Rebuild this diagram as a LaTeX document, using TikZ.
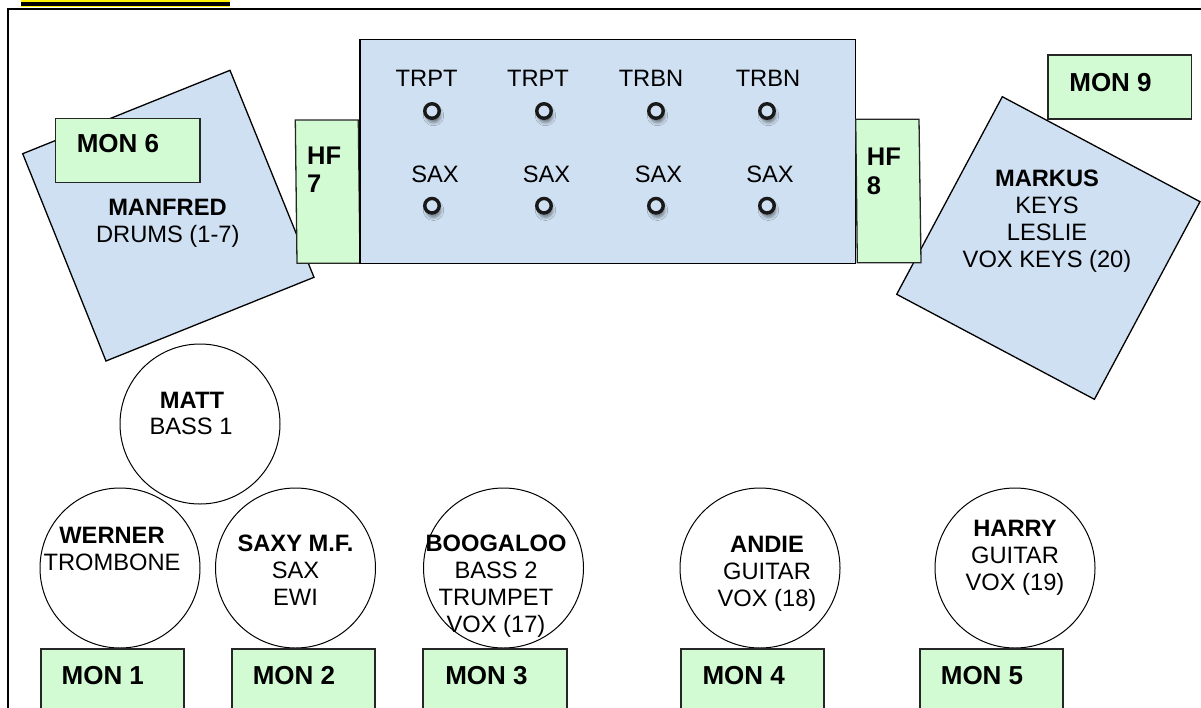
\documentclass[tikz,border=0pt]{standalone}
\usepackage{fontspec}
\setmainfont{Liberation Sans}
\usetikzlibrary{shadows.blur}
\definecolor{riser}{HTML}{CFE0F2}
\definecolor{monfill}{HTML}{D3FBD3}
\begin{document}
\begin{tikzpicture}[x=1pt,y=-1pt,
  riserbox/.style={draw=black, fill=riser, line width=1.3pt, line join=miter},
  monbox/.style={draw=black!85, fill=monfill, line width=1.3pt, line join=miter},
  person/.style={circle, draw=black, fill=white, line width=1pt, minimum size=160pt, inner sep=0pt},
  micring/.style={circle, draw=black!90, fill=riser, line width=3.4pt, minimum size=14.5pt, inner sep=0pt,
    blur shadow={shadow xshift=1.5pt, shadow yshift=-4.5pt, shadow blur radius=3pt, shadow opacity=45}},
  lbl/.style={inner sep=0pt, anchor=base, font=\fontsize{23.7}{27}\selectfont},
  blbl/.style={inner sep=0pt, anchor=base, font=\fontsize{23.7}{27}\selectfont\bfseries},
  monlbl/.style={inner sep=0pt, anchor=base, font=\fontsize{26}{30}\selectfont\bfseries},
  hflbl/.style={inner sep=0pt, anchor=base west, font=\fontsize{25.5}{30}\selectfont\bfseries}]
\useasboundingbox (0,0) rectangle (1201,707);
\clip (0,0) rectangle (1201,707);
\fill[white] (0,0) rectangle (1201,707);

% drum riser
\draw[riserbox] (22.7,153.7) -- (230,70.3) -- (314,277.3) -- (106,361) -- cycle;
\draw[monbox] (55.7,118.3) rectangle (200,182.7);
\node[monlbl] (mon6) at (118,152.6) {MON 6};
\node[blbl] (manfred) at (167.5,215.2) {MANFRED};
\node[lbl] (drums) at (167.8,242.2) {DRUMS (1-7)};

% HF 7
\draw[monbox] (295.3,120) -- (358.3,120) -- (360,263.3) -- (297,263.3) -- cycle;
\node[hflbl] (hf7a) at (307,164.3) {HF};
\node[hflbl] (hf7b) at (307,192.3) {7};

% horn riser
\draw[riserbox] (360,39.3) rectangle (855.5,263.3);
\node[lbl] (t1) at (426.6,86.5) {TRPT};
\node[lbl] (t2) at (538,86.5) {TRPT};
\node[lbl] (t3) at (651,86.5) {TRBN};
\node[lbl] (t4) at (768,86.5) {TRBN};
\node[lbl] (s1) at (435,182.5) {SAX};
\node[lbl] (s2) at (546.5,182.5) {SAX};
\node[lbl] (s3) at (658.5,182.5) {SAX};
\node[lbl] (s4) at (770,182.5) {SAX};
\foreach \x/\n in {432/1,544/2,656/3,767/4}{
  \node[micring] (mt\n) at (\x,111) {};
  \node[micring] (ms\n) at (\x,205.7) {};
}

% keys riser
\draw[riserbox] (1002.3,96.7) -- (1200,201.7) -- (1094.4,399.3) -- (896.7,294.3) -- cycle;
\draw[monbox] (1048,55) rectangle (1191.7,119);
\node[monlbl] (mon9) at (1110.5,91.5) {MON 9};
\node[blbl] (markus) at (1047,186.2) {MARKUS};
\node[lbl] (keys) at (1047,213.2) {KEYS};
\node[lbl] (leslie) at (1047,240.2) {LESLIE};
\node[lbl] (voxkeys) at (1047,267.2) {VOX KEYS (20)};

% HF 8
\draw[monbox] (855.7,119.3) -- (919,119.3) -- (921,262.7) -- (857.3,262.7) -- cycle;
\node[hflbl] (hf8a) at (866.7,165) {HF};
\node[hflbl] (hf8b) at (866.7,194) {8};

% performers
\node[person] (matt) at (200,424) {};
\node[blbl] (mattn) at (192,408.5) {MATT};
\node[lbl] (matti) at (191,434.5) {BASS 1};

\node[person] (werner) at (120,568) {};
\node[blbl] (wernern) at (112,543.5) {WERNER};
\node[lbl] (werneri) at (112,570.5) {TROMBONE};

\node[person] (saxy) at (295.5,568) {};
\node[blbl] (saxyn) at (295.5,551.5) {SAXY M.F.};
\node[lbl] (saxyi) at (295.5,578.5) {SAX};
\node[lbl] (saxyj) at (295.5,605.5) {EWI};

\node[person] (boog) at (503.5,568) {};
\node[blbl] (boogn) at (496,551.5) {BOOGALOO};
\node[lbl] (boogi) at (496,578.5) {BASS 2};
\node[lbl] (boogj) at (496,605.5) {TRUMPET};
\node[lbl] (boogk) at (496,632.5) {VOX (17)};

\node[person] (andie) at (760,568) {};
\node[blbl] (andien) at (767,552.5) {ANDIE};
\node[lbl] (andiei) at (767,579.5) {GUITAR};
\node[lbl] (andiej) at (767,606.5) {VOX (18)};

\node[person] (harry) at (1015,568) {};
\node[blbl] (harryn) at (1015,536.5) {HARRY};
\node[lbl] (harryi) at (1015,563.5) {GUITAR};
\node[lbl] (harryj) at (1015,590.5) {VOX (19)};

% floor monitors
\draw[monbox] (41,649) rectangle (184,720);
\node[monlbl] (mon1) at (102.8,684.3) {MON 1};
\draw[monbox] (232,649) rectangle (375,720);
\node[monlbl] (mon2) at (294,684.3) {MON 2};
\draw[monbox] (423,649) rectangle (567,720);
\node[monlbl] (mon3) at (486.5,684.3) {MON 3};
\draw[monbox] (681,649) rectangle (824,720);
\node[monlbl] (mon4) at (743.7,684.3) {MON 4};
\draw[monbox] (920,649) rectangle (1063,720);
\node[monlbl] (mon5) at (982,684.3) {MON 5};

% frame
\draw[line width=2pt] (8.3,710) -- (8.3,9.3) -- (1205,9.3);
% highlighted bar
\fill[yellow] (21,0) rectangle (230,7);
\fill[black] (21,1.7) rectangle (230,5.7);
\end{tikzpicture}
\end{document}
